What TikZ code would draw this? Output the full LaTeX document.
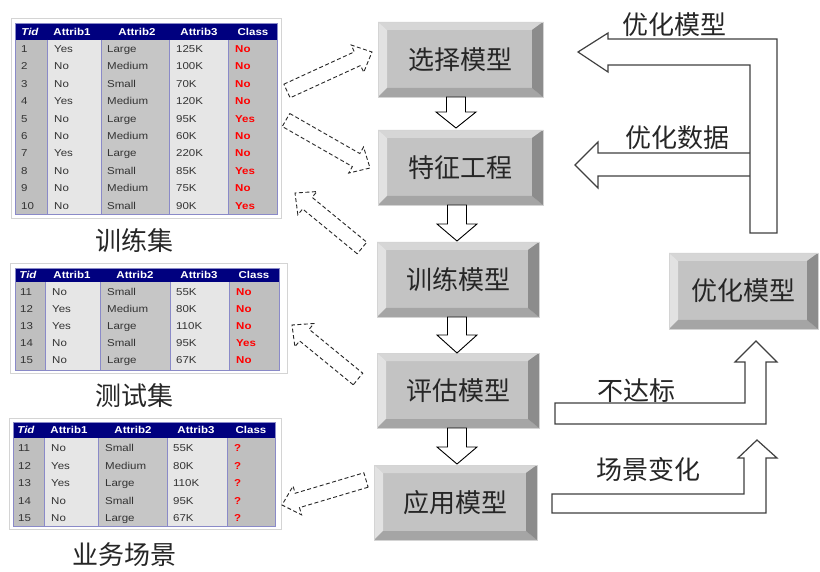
\documentclass[tikz,border=0pt]{standalone}
\usepackage{fontspec}
\newfontfamily\cjk{Noto Sans CJK SC}
\newfontfamily\tabfont[FakeStretch=1.15]{Liberation Sans}
\usetikzlibrary{calc}
\definecolor{hdrblue}{HTML}{00007F}
\definecolor{coldk}{HTML}{BFBFBF}
\definecolor{colmd}{HTML}{C6C6C6}
\definecolor{collt}{HTML}{E6E6E6}
\definecolor{sepcol}{HTML}{8A8AC8}
\definecolor{bvface}{HTML}{C3C3C3}
\definecolor{bvtop}{HTML}{D6D6D6}
\definecolor{bvleft}{HTML}{E2E2E2}
\definecolor{bvbot}{HTML}{A5A5A5}
\definecolor{bvright}{HTML}{8C8C8C}
\definecolor{framec}{HTML}{D4D4D4}
\newcommand\setcols[5]{\def\cxa{#1}\def\cxb{#2}\def\cxc{#3}\def\cxd{#4}\def\cxe{#5}}
\newcommand\trow[7]{%
 \node[cell] (#1a) at (\cxa,#2) {#3};
 \node[cell] (#1b) at (\cxb,#2) {#4};
 \node[cell] (#1c) at (\cxc,#2) {#5};
 \node[cell] (#1d) at (\cxd,#2) {#6};
 \node[cell,cls] (#1e) at (\cxe,#2) {#7};}
\newcommand\tabbody[9]{%
 \fill[hdrblue] (#1,#7) rectangle (#6,#8);
 \fill[coldk] (#1,#8) rectangle (#2,#9);
 \fill[collt] (#2,#8) rectangle (#3,#9);
 \fill[colmd] (#3,#8) rectangle (#4,#9);
 \fill[collt] (#4,#8) rectangle (#5,#9);
 \fill[coldk] (#5,#8) rectangle (#6,#9);
 \draw[sepcol,line width=0.8pt] (#2,#8) -- (#2,#9) (#3,#8) -- (#3,#9) (#4,#8) -- (#4,#9) (#5,#8) -- (#5,#9);
 \draw[sepcol,line width=0.8pt] (#1,#7) rectangle (#6,#9);}
\newcommand\hrow[7]{%
 \node[hcell] (#1a) at (#2,#7) {\itshape Tid};
 \node[hcell] (#1b) at (#3,#7) {Attrib1};
 \node[hcell] (#1c) at (#4,#7) {Attrib2};
 \node[hcell] (#1d) at (#5,#7) {Attrib3};
 \node[hcell] (#1e) at (#6,#7) {Class};}
\newcommand\bevel[1]{%
 \fill[bvtop] (#1.north west) -- (#1.north east) -- ([xshift=-11pt,yshift=-8pt]#1.north east) -- ([xshift=9pt,yshift=-8pt]#1.north west) -- cycle;
 \fill[bvleft] (#1.north west) -- ([xshift=9pt,yshift=-8pt]#1.north west) -- ([xshift=9pt,yshift=9pt]#1.south west) -- (#1.south west) -- cycle;
 \fill[bvbot] (#1.south west) -- ([xshift=9pt,yshift=9pt]#1.south west) -- ([xshift=-11pt,yshift=9pt]#1.south east) -- (#1.south east) -- cycle;
 \fill[bvright] (#1.north east) -- (#1.south east) -- ([xshift=-11pt,yshift=9pt]#1.south east) -- ([xshift=-11pt,yshift=-8pt]#1.north east) -- cycle;
 \draw[framec,line width=0.6pt] (#1.north west) rectangle (#1.south east);}
\newcommand\blockarr[6][]{%
 \coordinate (ba-h) at ($(#3)!#6!(#2)$);
 \draw[#1] ($(#2)!#4!90:(#3)$) -- ($(ba-h)!#4!-90:(#2)$) -- ($(ba-h)!#5!-90:(#2)$) -- (#3)
  -- ($(ba-h)!#5!90:(#2)$) -- ($(ba-h)!#4!90:(#2)$) -- ($(#2)!#4!-90:(#3)$) -- cycle;}
\begin{document}
\begin{tikzpicture}[x=1pt,y=-1pt,
 bbox/.style={rectangle,fill=bvface,inner sep=0pt,outer sep=0pt,font=\cjk\fontsize{26}{30}\selectfont,text=black!85},
 lab/.style={inner sep=0pt,font=\cjk\fontsize{26}{30}\selectfont,text=black!85},
 cell/.style={anchor=west,inner sep=0pt,text height=7.2pt,text depth=0pt,font=\tabfont\fontsize{10}{12}\selectfont,text=black!80},
 cls/.style={text=red,font=\tabfont\fontsize{10}{12}\selectfont\bfseries},
 hcell/.style={inner sep=0pt,text height=7.2pt,text depth=0pt,text=white,font=\tabfont\fontsize{10}{12}\selectfont\bfseries},
 dasharr/.style={draw=black!85,dash pattern=on 4pt off 2.5pt,line width=0.9pt},
 solidarr/.style={draw=black,fill=white,line width=0.9pt},
 larr/.style={draw=black!75,fill=white,line width=1.2pt}]
\useasboundingbox (0,0) rectangle (820,572);
\fill[white] (0,0) rectangle (820,572);

% ---------- tables ----------
\draw[framec,line width=0.8pt] (11,18) rectangle (281,218);
\tabbody{15}{47}{101}{169}{228}{277}{23}{40}{214}
\hrow{ta-h}{30}{72}{137}{199}{253}{31.5}
\setcols{21}{54}{107}{176}{235}
\trow{ta1}{49}{1}{Yes}{Large}{125K}{No}
\trow{ta2}{66.4}{2}{No}{Medium}{100K}{No}
\trow{ta3}{83.8}{3}{No}{Small}{70K}{No}
\trow{ta4}{101.2}{4}{Yes}{Medium}{120K}{No}
\trow{ta5}{118.6}{5}{No}{Large}{95K}{Yes}
\trow{ta6}{136}{6}{No}{Medium}{60K}{No}
\trow{ta7}{153.4}{7}{Yes}{Large}{220K}{No}
\trow{ta8}{170.8}{8}{No}{Small}{85K}{Yes}
\trow{ta9}{188.2}{9}{No}{Medium}{75K}{No}
\trow{ta10}{205.6}{10}{No}{Small}{90K}{Yes}

\draw[framec,line width=0.8pt] (10,263) rectangle (287,373);
\tabbody{15}{45}{100}{170}{229}{279}{268}{282}{370}
\hrow{tb-h}{28}{72}{135}{199}{254}{275}
\setcols{20}{52}{107}{176}{236}
\trow{tb1}{292}{11}{No}{Small}{55K}{No}
\trow{tb2}{309}{12}{Yes}{Medium}{80K}{No}
\trow{tb3}{326}{13}{Yes}{Large}{110K}{No}
\trow{tb4}{343}{14}{No}{Small}{95K}{Yes}
\trow{tb5}{360}{15}{No}{Large}{67K}{No}

\draw[framec,line width=0.8pt] (9,418) rectangle (281,529);
\tabbody{13}{44}{98}{167}{227}{275}{422}{438}{526}
\hrow{tc-h}{26}{69}{133}{196}{251}{430}
\setcols{18}{51}{105}{173}{234}
\trow{tc1}{448}{11}{No}{Small}{55K}{?}
\trow{tc2}{465.5}{12}{Yes}{Medium}{80K}{?}
\trow{tc3}{483}{13}{Yes}{Large}{110K}{?}
\trow{tc4}{500.5}{14}{No}{Small}{95K}{?}
\trow{tc5}{518}{15}{No}{Large}{67K}{?}

\node[lab] (l1) at (134,241) {训练集};
\node[lab] (l2) at (134,396) {测试集};
\node[lab] (l3) at (124,555) {业务场景};

% ---------- beveled boxes ----------
\node[bbox,minimum width=165pt,minimum height=75pt] (m1) at (460.5,59.5) {选择模型};
\bevel{m1}
\node[bbox,minimum width=165pt,minimum height=75pt] (m2) at (460.5,167.5) {特征工程};
\bevel{m2}
\node[bbox,minimum width=162pt,minimum height=75pt] (m3) at (458,279.5) {训练模型};
\bevel{m3}
\node[bbox,minimum width=162pt,minimum height=75pt] (m4) at (458,390.5) {评估模型};
\bevel{m4}
\node[bbox,minimum width=163pt,minimum height=75pt] (m5) at (455.5,502.5) {应用模型};
\bevel{m5}
\node[bbox,minimum width=149pt,minimum height=76pt] (m6) at (743.5,291) {优化模型};
\bevel{m6}

% ---------- down arrows ----------
\coordinate (s1) at ([xshift=-4.5pt]m1.south);
\coordinate (e1) at ([yshift=2pt]s1 |- m2.north);
\coordinate (s2) at ([xshift=-3.5pt]m2.south);
\coordinate (e2) at ([yshift=1pt]s2 |- m3.north);
\coordinate (s3) at ([xshift=-1pt]m3.south);
\coordinate (e3) at (s3 |- m4.north);
\coordinate (s4) at ([xshift=-1pt]m4.south);
\coordinate (e4) at ([yshift=1pt]s4 |- m5.north);
\blockarr[solidarr]{s1}{e1}{9.5pt}{20pt}{16pt}
\blockarr[solidarr]{s2}{e2}{9.5pt}{20pt}{17pt}
\blockarr[solidarr]{s3}{e3}{9.5pt}{20pt}{18pt}
\blockarr[solidarr]{s4}{e4}{9.5pt}{20pt}{17pt}

% ---------- dashed arrows ----------
\coordinate (p1a) at (287,91);  \coordinate (p1b) at (372,52);
\coordinate (p2a) at (286,120); \coordinate (p2b) at (370,168);
\coordinate (p3a) at (362,248); \coordinate (p3b) at (295,193);
\coordinate (p4a) at (358,379); \coordinate (p4b) at (292,325);
\coordinate (p5a) at (366,480); \coordinate (p5b) at (282,505);
\blockarr[dasharr]{p1a}{p1b}{7.5pt}{15pt}{16pt}
\blockarr[dasharr]{p2a}{p2b}{7.5pt}{15pt}{16pt}
\blockarr[dasharr]{p3a}{p3b}{7.5pt}{15pt}{16pt}
\blockarr[dasharr]{p4a}{p4b}{7.5pt}{15pt}{16pt}
\blockarr[dasharr]{p5a}{p5b}{7.5pt}{15pt}{16pt}

% ---------- right-hand feedback arrows ----------
\draw[larr] (750,153) -- (598,153) -- (598,142) -- (575,165) -- (598,188) -- (598,176) -- (750,176);
\draw[larr] (578,52) -- (608,33) -- (608,39) -- (777,39) -- (777,233) -- (750,233) -- (750,65) -- (608,65) -- (608,72) -- cycle;
\draw[larr] (555,403) -- (745,403) -- (745,362) -- (735,362) -- (756,341) -- (777,362) -- (766,362) -- (766,424) -- (555,424) -- cycle;
\draw[larr] (552,494) -- (744,494) -- (744,458) -- (738,458) -- (757,440) -- (777,458) -- (766,458) -- (766,513) -- (552,513) -- cycle;

\node[lab] (k1) at (674,25) {优化模型};
\node[lab] (k2) at (677,138) {优化数据};
\node[lab] (k3) at (636,391) {不达标};
\node[lab] (k4) at (648,470) {场景变化};
\end{tikzpicture}
\end{document}
